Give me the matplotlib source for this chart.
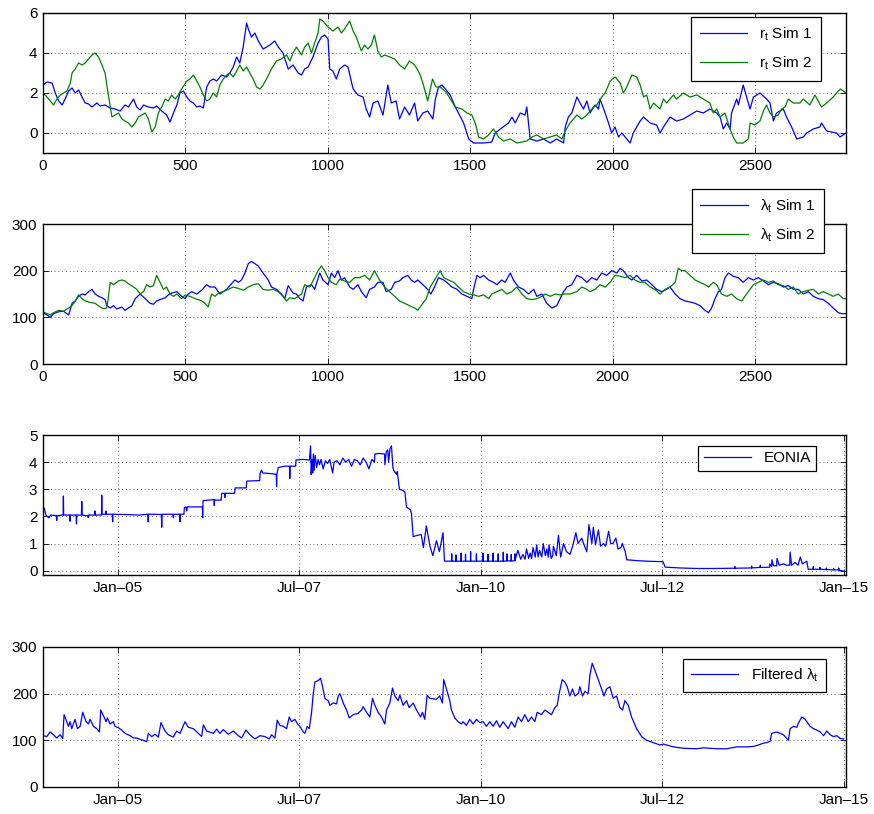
import matplotlib
matplotlib.use("Agg")
import matplotlib.pyplot as plt

plt.rcParams['font.family'] = ['Liberation Sans', 'DejaVu Sans']
plt.rcParams['mathtext.fontset'] = 'custom'
plt.rcParams['mathtext.rm'] = 'Liberation Sans'

# ---- panel 1: simulated short rate r_t ----
r1_t = [0, 14, 32, 43, 55, 67, 78, 90, 102, 113, 125, 137, 148, 160, 172, 189, 201, 218, 236, 253,
        271, 288, 300, 318, 329, 341, 353, 370, 388, 399, 417, 434, 446, 458, 470, 481, 493, 505, 516, 528,
        540, 551, 563, 575, 586, 598, 610, 627, 645, 656, 668, 680, 691, 703, 715, 721, 732, 744, 756, 773,
        797, 814, 826, 843, 861, 878, 896, 908, 919, 931, 948, 966, 978, 989, 1001, 1007, 1018, 1030, 1042, 1059,
        1071, 1089, 1106, 1124, 1135, 1147, 1159, 1176, 1194, 1211, 1223, 1240, 1252, 1270, 1287, 1305, 1316, 1334,
        1351, 1369, 1378, 1389, 1401, 1413, 1430, 1448, 1459, 1477, 1495, 1512, 1547, 1576, 1588, 1606, 1635,
        1647, 1658, 1676, 1693, 1699, 1705, 1711, 1734, 1758, 1781, 1804, 1828, 1834, 1845, 1857, 1875, 1886,
        1898, 1910, 1921, 1939, 1951, 1956, 1974, 1986, 1997, 2009, 2021, 2033, 2050, 2062, 2073, 2085, 2097,
        2109, 2132, 2155, 2167, 2179, 2202, 2225, 2249, 2272, 2296, 2319, 2342, 2366, 2378, 2389, 2401, 2413,
        2418, 2436, 2442, 2459, 2471, 2483, 2495, 2518, 2541, 2553, 2565, 2576, 2600, 2611, 2629, 2647, 2670,
        2682, 2705, 2728, 2734, 2752, 2787, 2799, 2820]
r1_v = [2.4, 2.55, 2.5, 2.0, 1.6, 1.4, 1.7, 2.1, 2.25, 2.0, 2.15, 1.8, 1.5, 1.45, 1.3, 1.5, 1.35, 1.4, 1.25, 1.2,
        1.1, 1.4, 1.3, 1.7, 1.3, 1.15, 1.4, 1.3, 1.25, 1.35, 1.1, 0.9, 0.55, 1.0, 1.4, 2.0, 2.1, 1.8, 1.6, 1.5,
        1.3, 1.35, 1.25, 2.3, 2.6, 2.7, 2.6, 2.9, 2.8, 3.0, 3.3, 3.8, 3.5, 4.3, 5.5, 5.2, 4.8, 5.0, 4.6, 4.2,
        4.4, 4.6, 4.3, 4.0, 3.2, 3.4, 3.0, 2.9, 3.2, 3.3, 3.8, 4.5, 4.8, 4.9, 4.7, 3.2, 3.1, 2.7, 3.2, 3.4,
        3.3, 2.2, 1.9, 1.8, 1.2, 0.8, 1.5, 1.6, 0.9, 2.4, 1.5, 1.6, 0.7, 1.3, 0.9, 1.5, 0.6, 1.0,
        1.1, 0.7, 1.7, 2.3, 2.4, 2.2, 1.9, 1.3, 1.0, 0.5, -0.3, -0.5, -0.5, -0.45, 0.0, 0.2, 0.5,
        0.8, 0.5, 1.0, 0.9, 1.3, 0.5, -0.3, -0.4, -0.3, -0.5, -0.3, -0.5, 0.3, 0.8, 1.0, 1.8, 1.5,
        1.2, 1.6, 1.0, 1.4, 1.2, 1.7, 1.0, 0.5, 0.0, 0.3, -0.2, 0.0, -0.3, -0.5, 0.0, 0.3, 0.6,
        0.8, 0.5, 0.4, 0.0, 0.3, 0.8, 0.6, 0.7, 0.9, 1.1, 1.0, 1.2, 1.0, 0.8, 0.2, 0.5, 0.2,
        1.0, 1.7, 1.4, 2.4, 1.8, 1.2, 1.8, 2.0, 1.7, 1.5, 0.6, 1.0, 1.2, 0.8, 0.3, -0.3, -0.2,
        0.0, 0.2, 0.3, 0.5, 0.1, 0.0, -0.2, 0.0]

r2_t = [0, 14, 26, 37, 49, 61, 72, 84, 96, 102, 113, 125, 137, 148, 160, 172, 183, 195, 207, 218,
        224, 234, 242, 253, 265, 277, 288, 300, 312, 324, 335, 347, 359, 370, 382, 394, 405, 417, 429, 440,
        452, 464, 475, 487, 505, 516, 528, 540, 551, 563, 575, 586, 598, 610, 621, 633, 645, 656, 668, 680,
        691, 703, 715, 726, 738, 750, 762, 773, 785, 802, 820, 837, 855, 867, 878, 890, 908, 919, 931, 943,
        954, 966, 972, 983, 1001, 1018, 1036, 1048, 1059, 1077, 1089, 1100, 1118, 1129, 1141, 1153, 1164, 1176,
        1188, 1200, 1217, 1235, 1252, 1270, 1287, 1305, 1322, 1334, 1351, 1368, 1380, 1395, 1418, 1430, 1448,
        1471, 1489, 1506, 1518, 1530, 1547, 1565, 1582, 1600, 1617, 1641, 1664, 1699, 1717, 1734, 1758, 1781,
        1804, 1822, 1834, 1851, 1875, 1892, 1910, 1933, 1945, 1962, 1974, 1992, 2009, 2027, 2038, 2050, 2068,
        2085, 2097, 2109, 2120, 2132, 2144, 2167, 2179, 2190, 2214, 2225, 2249, 2272, 2296, 2319, 2342, 2354,
        2366, 2378, 2395, 2413, 2424, 2436, 2459, 2477, 2483, 2500, 2518, 2530, 2541, 2553, 2565, 2582, 2594,
        2606, 2617, 2635, 2658, 2670, 2693, 2711, 2734, 2752, 2775, 2793, 2801, 2820]
r2_v = [2.0, 1.8, 1.6, 1.4, 1.7, 1.9, 2.0, 2.1, 2.5, 3.0, 3.2, 3.5, 3.4, 3.5, 3.7, 3.9, 4.0, 3.8, 3.4, 3.0,
        2.4, 1.5, 0.8, 0.9, 1.0, 0.7, 0.6, 0.5, 0.3, 0.5, 0.8, 0.9, 1.0, 0.7, 0.05, 0.3, 1.0, 1.3, 1.7, 1.6,
        1.9, 1.7, 1.9, 2.2, 2.6, 2.7, 2.9, 2.6, 2.3, 1.9, 1.6, 1.7, 2.0, 1.8, 2.4, 2.7, 2.9, 3.0, 2.8, 3.1,
        3.4, 3.1, 3.3, 3.0, 2.7, 2.3, 2.2, 2.4, 2.7, 3.2, 3.6, 3.7, 3.9, 3.6, 4.0, 4.3, 3.9, 4.3, 4.5, 4.0,
        4.5, 5.0, 5.7, 5.6, 5.3, 5.1, 5.3, 5.0, 5.2, 5.6, 5.1, 4.8, 4.1, 4.4, 4.2, 4.4, 4.9, 4.1,
        3.8, 3.9, 3.8, 3.7, 3.4, 3.2, 3.6, 3.4, 3.0, 2.5, 1.6, 2.7, 2.3, 2.3, 2.0, 1.7, 1.3,
        1.2, 1.0, 0.9, 0.5, -0.2, -0.3, -0.1, 0.2, -0.2, -0.4, -0.3, -0.5, -0.4, -0.2, -0.1, -0.3, -0.2,
        -0.1, -0.3, 0.1, 0.5, 0.9, 0.7, 0.9, 1.3, 1.4, 1.8, 2.0, 2.6, 2.8, 2.5, 2.0, 2.3, 2.9,
        2.8, 2.4, 1.8, 1.9, 1.2, 1.5, 1.2, 1.7, 1.5, 1.9, 1.7, 2.0, 1.8, 1.9, 1.7, 1.5, 1.0,
        1.2, 0.8, 1.0, 0.2, -0.2, -0.5, -0.5, -0.3, 0.5, 0.4, 0.6, 1.1, 1.4, 1.0, 0.8, 0.9, 1.2,
        1.3, 1.7, 1.5, 1.5, 1.7, 1.4, 1.9, 1.3, 1.5, 1.8, 2.1, 2.2, 2.0]

# ---- panel 2: simulated intensity lambda_t ----
l1_t = [0, 14, 26, 37, 55, 72, 90, 102, 113, 125, 137, 148, 160, 172, 183, 195, 207, 218, 224, 236,
        248, 259, 277, 288, 300, 312, 324, 341, 359, 376, 388, 399, 411, 429, 440, 452, 470, 487, 499, 510,
        522, 540, 557, 575, 586, 604, 621, 633, 645, 656, 674, 686, 697, 709, 721, 732, 744, 756, 767, 779,
        791, 802, 820, 837, 849, 861, 878, 890, 902, 913, 925, 943, 954, 972, 983, 1001, 1013, 1024, 1036, 1048,
        1059, 1077, 1089, 1106, 1118, 1135, 1147, 1164, 1176, 1194, 1205, 1223, 1235, 1252, 1264, 1281, 1293, 1305,
        1316, 1334, 1351, 1362, 1375, 1389, 1407, 1418, 1436, 1454, 1471, 1489, 1506, 1512, 1524, 1535, 1547,
        1565, 1582, 1594, 1611, 1623, 1641, 1652, 1670, 1687, 1705, 1723, 1734, 1752, 1769, 1787, 1804, 1816,
        1828, 1840, 1857, 1875, 1892, 1910, 1927, 1945, 1962, 1980, 1997, 2015, 2027, 2038, 2056, 2068, 2085,
        2103, 2120, 2138, 2155, 2173, 2190, 2202, 2220, 2237, 2255, 2272, 2290, 2307, 2325, 2337, 2348, 2360,
        2372, 2383, 2395, 2407, 2424, 2442, 2459, 2477, 2495, 2512, 2530, 2547, 2565, 2582, 2600, 2617, 2635,
        2652, 2670, 2688, 2705, 2723, 2740, 2758, 2775, 2793, 2804, 2820]
l1_v = [110, 105, 100, 108, 112, 113, 105, 130, 135, 145, 150, 148, 155, 160, 150, 145, 142, 138, 125, 120,
        125, 118, 122, 115, 120, 125, 140, 150, 140, 130, 128, 135, 138, 142, 148, 152, 155, 145, 140, 150,
        155, 150, 158, 170, 165, 165, 150, 155, 160, 168, 180, 175, 180, 195, 215, 220, 215, 210, 200, 190,
        180, 165, 160, 150, 140, 168, 152, 150, 140, 135, 165, 170, 160, 195, 180, 170, 195, 185, 200, 180,
        185, 165, 160, 170, 155, 142, 160, 165, 175, 175, 155, 160, 175, 178, 185, 190, 180, 175,
        180, 170, 160, 150, 165, 185, 180, 175, 165, 160, 150, 145, 140, 160, 190, 185, 190,
        180, 175, 170, 180, 175, 195, 180, 165, 160, 150, 160, 145, 150, 130, 120, 125, 140,
        155, 165, 170, 190, 185, 175, 185, 180, 195, 190, 200, 195, 205, 200, 185, 180, 190,
        178, 180, 170, 160, 155, 160, 165, 150, 140, 135, 133, 130, 125, 115, 110, 120, 140,
        155, 160, 185, 195, 188, 185, 175, 185, 180, 185, 178, 170, 175, 172, 165, 168, 160,
        160, 150, 155, 145, 140, 138, 130, 120, 110, 108, 108]

l2_t = [0, 14, 26, 37, 55, 72, 90, 102, 113, 125, 137, 148, 166, 183, 201, 213, 224, 230, 236, 248,
        265, 277, 288, 300, 318, 329, 341, 353, 364, 376, 388, 399, 411, 423, 434, 446, 458, 470, 487, 499,
        516, 534, 545, 557, 569, 580, 592, 604, 616, 633, 651, 668, 686, 703, 721, 738, 756, 773, 791, 808,
        826, 843, 855, 867, 884, 896, 908, 919, 937, 954, 966, 978, 989, 1001, 1013, 1030, 1042, 1059, 1077, 1094,
        1112, 1129, 1147, 1164, 1182, 1200, 1217, 1235, 1252, 1270, 1287, 1305, 1316, 1328, 1346, 1360, 1375,
        1395, 1407, 1424, 1442, 1459, 1477, 1495, 1512, 1530, 1547, 1565, 1576, 1594, 1611, 1629, 1647, 1664,
        1682, 1699, 1717, 1734, 1752, 1764, 1781, 1799, 1816, 1828, 1851, 1875, 1892, 1910, 1921, 1939, 1956,
        1974, 1992, 2009, 2027, 2044, 2062, 2079, 2097, 2114, 2132, 2149, 2167, 2185, 2202, 2220, 2231, 2243,
        2255, 2272, 2290, 2307, 2325, 2337, 2354, 2366, 2383, 2401, 2418, 2436, 2454, 2465, 2483, 2495, 2512,
        2530, 2547, 2565, 2582, 2600, 2617, 2635, 2652, 2670, 2688, 2705, 2723, 2740, 2758, 2775, 2793, 2810,
        2820]
l2_v = [112, 108, 105, 110, 115, 113, 120, 125, 135, 148, 140, 135, 132, 130, 122, 118, 120, 145, 175, 170,
        178, 180, 178, 172, 165, 160, 150, 155, 170, 165, 168, 190, 175, 160, 165, 150, 145, 150, 140, 148,
        145, 140, 138, 135, 130, 122, 150, 145, 152, 155, 160, 165, 162, 158, 165, 170, 172, 160, 158, 160,
        155, 145, 135, 142, 140, 145, 150, 170, 165, 185, 200, 210, 200, 185, 175, 170, 182, 178, 175, 185,
        185, 190, 180, 200, 180, 165, 155, 145, 135, 130, 125, 120, 115, 125, 140, 165, 180,
        200, 185, 180, 175, 165, 155, 150, 148, 145, 148, 140, 150, 155, 160, 150, 155, 165,
        150, 140, 138, 140, 145, 150, 145, 150, 148, 150, 150, 155, 165, 160, 155, 160, 170,
        165, 175, 190, 188, 185, 190, 180, 175, 175, 165, 160, 150, 160, 165, 175, 205, 200,
        200, 190, 180, 175, 170, 165, 175, 170, 150, 145, 150, 140, 135, 145, 160, 170, 175,
        180, 175, 178, 170, 168, 160, 165, 150, 155, 158, 160, 150, 155, 150, 145, 150, 140,
        140]

# ---- panel 3: EONIA (decimal year, rate in %) ----
eonia_points = [
    (2003.99, 2.30), (2004.01, 2.05), (2004.05, 1.95), (2004.08, 2.05), (2004.155, 2.03), (2004.16, 1.85),
    (2004.165, 2.03), (2004.248, 2.05), (2004.252, 2.75), (2004.256, 2.05), (2004.340, 2.05), (2004.344, 1.82),
    (2004.348, 2.05), (2004.428, 2.05), (2004.432, 1.72), (2004.436, 2.05), (2004.500, 2.05), (2004.505, 2.55),
    (2004.510, 2.05), (2004.590, 2.02), (2004.595, 1.95), (2004.600, 2.05), (2004.684, 2.05), (2004.688, 2.20),
    (2004.692, 2.05), (2004.776, 2.05), (2004.780, 2.78), (2004.784, 2.08), (2004.836, 2.08), (2004.840, 2.20),
    (2004.844, 2.08), (2004.926, 2.08), (2004.930, 1.80), (2004.934, 2.08), (2005.10, 2.07), (2005.30, 2.05),
    (2005.416, 2.08), (2005.420, 1.80), (2005.424, 2.08), (2005.602, 2.07), (2005.606, 1.60), (2005.610, 2.08),
    (2005.762, 2.08), (2005.766, 1.95), (2005.770, 2.08), (2005.854, 2.08), (2005.858, 1.80), (2005.862, 2.08),
    (2005.912, 2.08), (2005.918, 2.32), (2005.94, 2.35), (2005.95, 2.20), (2005.96, 2.35), (2006.10, 2.35),
    (2006.166, 2.35), (2006.170, 1.95), (2006.175, 2.58), (2006.25, 2.60), (2006.326, 2.62), (2006.330, 2.40),
    (2006.334, 2.60), (2006.425, 2.60), (2006.432, 2.85), (2006.47, 2.85), (2006.475, 2.70), (2006.48, 2.85),
    (2006.61, 2.85), (2006.617, 3.05), (2006.77, 3.05), (2006.777, 3.30), (2006.955, 3.32), (2006.962, 3.60),
    (2006.98, 3.70), (2007.00, 3.60), (2007.10, 3.58), (2007.184, 3.55), (2007.188, 3.10), (2007.192, 3.55),
    (2007.21, 3.80), (2007.30, 3.85), (2007.366, 3.85), (2007.370, 3.40), (2007.374, 3.85), (2007.45, 3.85),
    (2007.456, 4.08), (2007.55, 4.10), (2007.64, 4.08), (2007.656, 4.60), (2007.665, 3.55), (2007.675, 4.10),
    (2007.685, 3.60), (2007.695, 4.30), (2007.705, 3.70), (2007.72, 4.25), (2007.74, 3.80), (2007.76, 4.10),
    (2007.78, 3.90), (2007.80, 4.10), (2007.83, 3.75), (2007.86, 4.05), (2007.89, 3.95), (2007.92, 4.10),
    (2007.96, 3.60), (2007.98, 4.00), (2008.02, 4.05), (2008.06, 3.90), (2008.10, 4.15), (2008.14, 4.00),
    (2008.18, 4.10), (2008.22, 3.85), (2008.26, 4.10), (2008.30, 4.05), (2008.34, 3.90), (2008.38, 4.15),
    (2008.42, 4.00), (2008.46, 3.75), (2008.50, 4.10), (2008.535, 4.00), (2008.542, 4.30), (2008.60, 4.32),
    (2008.675, 4.30), (2008.680, 3.90), (2008.70, 4.40), (2008.72, 4.45), (2008.73, 4.00), (2008.75, 4.50),
    (2008.77, 4.60), (2008.78, 4.20), (2008.79, 3.80), (2008.80, 3.70), (2008.84, 3.55), (2008.85, 3.65),
    (2008.88, 3.00), (2008.93, 2.95), (2008.955, 2.90), (2008.977, 2.35), (2009.00, 2.30), (2009.03, 2.25),
    (2009.046, 2.10), (2009.069, 1.25), (2009.12, 1.30), (2009.18, 1.33), (2009.21, 0.85), (2009.25, 1.65),
    (2009.30, 0.90), (2009.34, 0.55), (2009.39, 1.10), (2009.43, 0.70), (2009.48, 1.40), (2009.50, 0.35),
    (2009.598, 0.35), (2009.600, 0.62), (2009.602, 0.35), (2009.658, 0.35), (2009.660, 0.58), (2009.662, 0.35),
    (2009.728, 0.35), (2009.730, 0.65), (2009.732, 0.35), (2009.788, 0.35), (2009.790, 0.60), (2009.792, 0.35),
    (2009.858, 0.35), (2009.860, 0.70), (2009.862, 0.35), (2009.938, 0.35), (2009.940, 0.62), (2009.942, 0.35),
    (2010.028, 0.35), (2010.030, 0.65), (2010.032, 0.35), (2010.098, 0.35), (2010.100, 0.60), (2010.102, 0.35),
    (2010.168, 0.35), (2010.170, 0.65), (2010.172, 0.35), (2010.238, 0.35), (2010.240, 0.62), (2010.242, 0.35),
    (2010.308, 0.35), (2010.310, 0.68), (2010.312, 0.35), (2010.358, 0.36), (2010.360, 0.62), (2010.362, 0.36),
    (2010.418, 0.36), (2010.420, 0.60), (2010.422, 0.36), (2010.468, 0.36), (2010.470, 0.62), (2010.472, 0.38),
    (2010.51, 0.75), (2010.55, 0.42), (2010.58, 0.60), (2010.61, 0.42), (2010.63, 0.80), (2010.66, 0.45),
    (2010.68, 0.65), (2010.70, 0.45), (2010.72, 0.85), (2010.75, 0.50), (2010.77, 0.95), (2010.79, 0.50),
    (2010.81, 0.75), (2010.84, 0.50), (2010.86, 1.00), (2010.89, 0.55), (2010.91, 0.80), (2010.93, 0.50),
    (2010.94, 0.95), (2010.96, 0.60), (2010.97, 0.45), (2010.99, 0.55), (2011.00, 0.90), (2011.04, 0.55),
    (2011.07, 1.30), (2011.10, 0.50), (2011.14, 1.00), (2011.18, 0.70), (2011.23, 0.60), (2011.27, 0.95),
    (2011.31, 1.40), (2011.34, 1.00), (2011.39, 1.20), (2011.43, 0.90), (2011.46, 0.70), (2011.49, 1.70),
    (2011.53, 1.00), (2011.55, 1.60), (2011.58, 0.95), (2011.62, 1.50), (2011.65, 0.90), (2011.69, 1.00),
    (2011.72, 0.90), (2011.76, 1.45), (2011.79, 1.00), (2011.82, 1.00), (2011.86, 1.20), (2011.89, 0.80),
    (2011.93, 0.85), (2011.95, 1.00), (2011.99, 0.70), (2012.01, 0.40), (2012.15, 0.37), (2012.28, 0.35),
    (2012.51, 0.33), (2012.54, 0.13), (2012.74, 0.10), (2012.97, 0.08), (2013.20, 0.08), (2013.43, 0.09),
    (2013.498, 0.09), (2013.500, 0.15), (2013.502, 0.09), (2013.728, 0.10), (2013.730, 0.17), (2013.732, 0.10),
    (2013.848, 0.12), (2013.850, 0.20), (2013.852, 0.12), (2013.92, 0.12), (2013.978, 0.13), (2013.98, 0.25),
    (2014.005, 0.15), (2014.01, 0.40), (2014.03, 0.18), (2014.075, 0.18), (2014.08, 0.45), (2014.11, 0.20),
    (2014.17, 0.25), (2014.21, 0.20), (2014.255, 0.20), (2014.26, 0.68), (2014.28, 0.20), (2014.33, 0.30),
    (2014.37, 0.20), (2014.40, 0.50), (2014.43, 0.25), (2014.49, 0.35), (2014.51, 0.05), (2014.578, 0.05),
    (2014.580, 0.15), (2014.582, 0.05), (2014.668, 0.05), (2014.670, 0.12), (2014.672, 0.05), (2014.758, 0.04),
    (2014.760, 0.10), (2014.762, 0.04), (2014.858, 0.03), (2014.860, 0.08), (2014.862, 0.03), (2014.928, 0.03),
    (2014.930, 0.10), (2014.932, 0.02), (2015.00, -0.02),
]
eonia_year = [p[0] for p in eonia_points]
eonia_rate = [p[1] for p in eonia_points]

# ---- panel 4: filtered intensity ----
filt_year = [2003.977, 2004.023, 2004.069, 2004.115, 2004.161, 2004.206, 2004.243, 2004.261, 2004.298, 2004.321,
             2004.344, 2004.367, 2004.413, 2004.445, 2004.482, 2004.518, 2004.564, 2004.596, 2004.619, 2004.665,
             2004.711, 2004.748, 2004.766, 2004.812, 2004.839, 2004.858, 2004.894, 2004.940, 2004.963, 2005.009,
             2005.055, 2005.101, 2005.170, 2005.216, 2005.261, 2005.307, 2005.353, 2005.399, 2005.422, 2005.468,
             2005.514, 2005.560, 2005.596, 2005.651, 2005.697, 2005.766, 2005.812, 2005.858, 2005.927, 2005.972,
             2006.041, 2006.110, 2006.156, 2006.179, 2006.225, 2006.317, 2006.362, 2006.408, 2006.454, 2006.523,
             2006.592, 2006.661, 2006.706, 2006.766, 2006.821, 2006.890, 2006.959, 2007.028, 2007.087, 2007.119,
             2007.165, 2007.197, 2007.234, 2007.280, 2007.326, 2007.362, 2007.394, 2007.440, 2007.477, 2007.509,
             2007.555, 2007.578, 2007.610, 2007.638, 2007.670, 2007.693, 2007.716, 2007.761, 2007.794, 2007.821,
             2007.853, 2007.899, 2007.922, 2007.968, 2008.014, 2008.037, 2008.060, 2008.106, 2008.151, 2008.188,
             2008.243, 2008.312, 2008.358, 2008.381, 2008.427, 2008.472, 2008.509, 2008.541, 2008.587, 2008.633,
             2008.679, 2008.702, 2008.748, 2008.784, 2008.817, 2008.862, 2008.885, 2008.931, 2008.977, 2009.014,
             2009.069, 2009.115, 2009.170, 2009.197, 2009.229, 2009.261, 2009.297, 2009.389, 2009.435, 2009.471,
             2009.490, 2009.527, 2009.573, 2009.596, 2009.642, 2009.688, 2009.733, 2009.756, 2009.802, 2009.848,
             2009.894, 2009.940, 2009.986, 2010.032, 2010.078, 2010.124, 2010.170, 2010.216, 2010.262, 2010.308,
             2010.377, 2010.423, 2010.469, 2010.515, 2010.561, 2010.607, 2010.653, 2010.699, 2010.744, 2010.777,
             2010.836, 2010.882, 2010.928, 2010.974, 2011.020, 2011.052, 2011.080, 2011.121, 2011.158, 2011.190,
             2011.227, 2011.264, 2011.296, 2011.342, 2011.365, 2011.402, 2011.434, 2011.480, 2011.503, 2011.535,
             2011.572, 2011.618, 2011.664, 2011.696, 2011.733, 2011.778, 2011.824, 2011.870, 2011.916, 2011.953,
             2011.985, 2012.031, 2012.077, 2012.146, 2012.215, 2012.284, 2012.376, 2012.468, 2012.514, 2012.560,
             2012.652, 2012.790, 2012.973, 2013.065, 2013.249, 2013.387, 2013.525, 2013.663, 2013.755, 2013.824,
             2013.892, 2013.938, 2013.984, 2014.007, 2014.076, 2014.168, 2014.237, 2014.260, 2014.306, 2014.352,
             2014.375, 2014.421, 2014.467, 2014.490, 2014.536, 2014.582, 2014.628, 2014.674, 2014.720, 2014.766,
             2014.812, 2014.858, 2014.904, 2014.949, 2014.995]
filt_lambda = [110, 108, 118, 112, 105, 112, 104, 155, 140, 130,
               140, 125, 145, 125, 130, 160, 140, 135, 145, 130,
               125, 118, 165, 150, 140, 148, 135, 140, 130, 127,
               122, 115, 110, 105, 105, 102, 100, 97, 115, 108,
               113, 107, 138, 120, 112, 107, 120, 115, 140, 128,
               125, 115, 108, 133, 120, 115, 124, 115, 123, 113,
               120, 110, 105, 122, 112, 103, 110, 108, 103, 112,
               105, 143, 132, 130, 125, 150, 140, 145, 135, 130,
               118, 115, 130, 125, 160, 200, 225, 228, 233, 215,
               190, 185, 175, 180, 178, 195, 200, 180, 165, 148,
               155, 158, 165, 172, 160, 150, 190, 175, 160, 150,
               135, 165, 180, 212, 195, 185, 197, 175, 185, 170,
               180, 165, 150, 160, 145, 197, 190, 188, 195, 180,
               230, 210, 185, 165, 148, 140, 135, 140, 132, 145,
               135, 145, 138, 140, 130, 140, 130, 142, 128, 140,
               125, 140, 128, 150, 140, 155, 140, 150, 140, 160,
               155, 165, 160, 155, 170, 175, 200, 230, 225, 215,
               195, 210, 195, 200, 215, 195, 205, 200, 240, 265,
               250, 230, 210, 195, 210, 215, 190, 195, 170, 165,
               185, 175, 150, 125, 108, 100, 95, 90, 92, 90,
               86, 83, 82, 84, 82, 82, 86, 86, 87, 90,
               94, 95, 98, 115, 118, 112, 100, 125, 130, 128,
               137, 150, 145, 140, 130, 125, 122, 118, 110, 120,
               112, 108, 110, 104, 103]

date_ticks = [2005.0, 2007.5, 2010.0, 2012.5, 2015.0]
date_labels = ['Jan\u201305', 'Jul\u201307', 'Jan\u201310', 'Jul\u201312', 'Jan\u201315']

BLUE = '#0000ff'
GREEN = '#008000'
LW = 0.9
FS = 11

fig = plt.figure(figsize=(8.74, 8.14), dpi=100)
W, H = 874.0, 814.0
# axes boxes in pixels: left, top, right, bottom
boxes = [(43, 13, 846, 153), (43, 224, 846, 364), (43, 435, 846, 575), (43, 647, 846, 787)]
axs = [fig.add_axes([l / W, 1 - b / H, (r - l) / W, (b - t) / H]) for l, t, r, b in boxes]


def style(ax):
    ax.grid(True, linestyle=(0, (1, 3.5)), color='0.25', linewidth=0.6)
    ax.tick_params(direction='in', top=True, right=True, length=4, width=0.6, labelsize=FS, pad=4)
    for s in ax.spines.values():
        s.set_linewidth(1.0)


def add_legend(ax, ur, **kw):
    leg = ax.legend(loc='upper right', bbox_to_anchor=(ur[0] / W, 1 - ur[1] / H), bbox_transform=fig.transFigure,
                    fancybox=False, framealpha=1, edgecolor='black', fontsize=FS, handlelength=3.1,
                    borderaxespad=0, **kw)
    leg.get_frame().set_linewidth(0.9)
    return leg


ax = axs[0]
ax.plot(r1_t, r1_v, color=BLUE, lw=LW, label='r$_\\mathregular{t}$ Sim 1')
ax.plot(r2_t, r2_v, color=GREEN, lw=LW, label='r$_\\mathregular{t}$ Sim 2')
ax.set_xlim(0, 2820)
ax.set_ylim(-1, 6)
ax.set_yticks([0, 2, 4, 6])
ax.set_xticks([0, 500, 1000, 1500, 2000, 2500])
style(ax)
add_legend(ax, (821, 17), labelspacing=0.75, borderpad=0.55)

ax = axs[1]
ax.plot(l1_t, l1_v, color=BLUE, lw=LW, label='\u03bb$_\\mathregular{t}$ Sim 1')
ax.plot(l2_t, l2_v, color=GREEN, lw=LW, label='\u03bb$_\\mathregular{t}$ Sim 2')
ax.set_xlim(0, 2820)
ax.set_ylim(0, 300)
ax.set_yticks([0, 100, 200, 300])
ax.set_xticks([0, 500, 1000, 1500, 2000, 2500])
style(ax)
add_legend(ax, (824, 189), labelspacing=0.75, borderpad=0.55)

ax = axs[2]
ax.plot(eonia_year, eonia_rate, color=BLUE, lw=LW, label='EONIA')
ax.set_xlim(2003.971, 2015.03)
ax.set_ylim(-0.16, 5)
ax.set_yticks([0, 1, 2, 3, 4, 5])
ax.set_xticks(date_ticks)
ax.set_xticklabels(date_labels)
style(ax)
add_legend(ax, (816, 446), borderpad=0.35)

ax = axs[3]
ax.plot(filt_year, filt_lambda, color=BLUE, lw=LW, label='Filtered \u03bb$_\\mathregular{t}$')
ax.set_xlim(2003.971, 2015.03)
ax.set_ylim(0, 300)
ax.set_yticks([0, 100, 200, 300])
ax.set_xticks(date_ticks)
ax.set_xticklabels(date_labels)
style(ax)
add_legend(ax, (826, 659), borderpad=0.5)

fig.savefig('out.png', dpi=100)
